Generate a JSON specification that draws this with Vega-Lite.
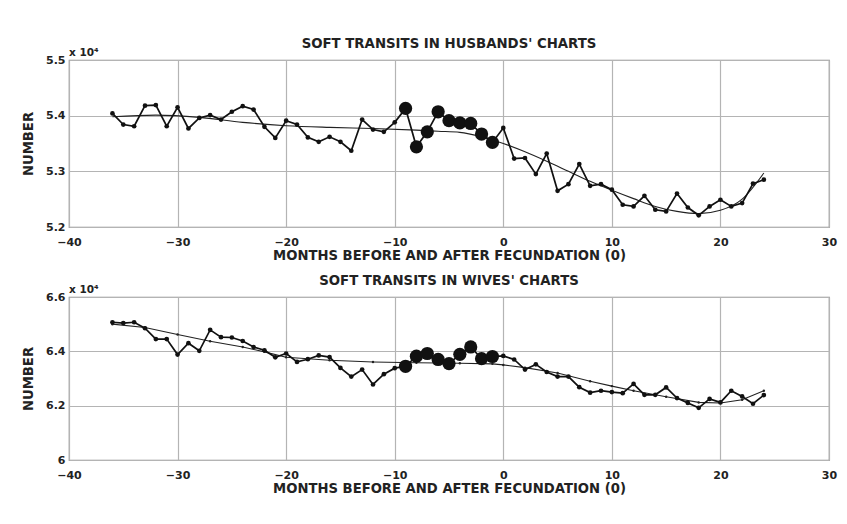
{
  "$schema": "https://vega.github.io/schema/vega-lite/v6.json",
  "background": "white",
  "padding": {"left": 20, "top": 36, "right": 8, "bottom": 8},
  "bounds": "flush",
  "spacing": 70,
  "config": {
    "view": {"stroke": "#8a8a8a", "strokeWidth": 1.2},
    "axis": {
      "labelFont": "DejaVu Sans", "labelFontWeight": "bold", "labelFontSize": 11, "labelColor": "#222",
      "titleFont": "DejaVu Sans", "titleFontWeight": "bold", "titleFontSize": 13.2, "titleColor": "#222",
      "ticks": false, "domain": false, "grid": true, "gridColor": "#b4b4b4", "gridWidth": 1.2
    },
    "title": {"font": "DejaVu Sans", "fontWeight": "bold", "fontSize": 13.3, "color": "#222", "frame": "group", "offset": -2}
  },
  "datasets": {
    "husb": [
      {"m": -36, "v": 54040}, {"m": -35, "v": 53840}, {"m": -34, "v": 53810}, {"m": -33, "v": 54180},
      {"m": -32, "v": 54190}, {"m": -31, "v": 53810}, {"m": -30, "v": 54150}, {"m": -29, "v": 53770},
      {"m": -28, "v": 53960}, {"m": -27, "v": 54010}, {"m": -26, "v": 53930}, {"m": -25, "v": 54070},
      {"m": -24, "v": 54170}, {"m": -23, "v": 54110}, {"m": -22, "v": 53800}, {"m": -21, "v": 53600},
      {"m": -20, "v": 53910}, {"m": -19, "v": 53840}, {"m": -18, "v": 53610}, {"m": -17, "v": 53530},
      {"m": -16, "v": 53620}, {"m": -15, "v": 53530}, {"m": -14, "v": 53370}, {"m": -13, "v": 53930},
      {"m": -12, "v": 53750}, {"m": -11, "v": 53710}, {"m": -10, "v": 53880}, {"m": -9, "v": 54130},
      {"m": -8, "v": 53440}, {"m": -7, "v": 53710}, {"m": -6, "v": 54070}, {"m": -5, "v": 53910},
      {"m": -4, "v": 53870}, {"m": -3, "v": 53860}, {"m": -2, "v": 53670}, {"m": -1, "v": 53520},
      {"m": 0, "v": 53780}, {"m": 1, "v": 53230}, {"m": 2, "v": 53240}, {"m": 3, "v": 52950},
      {"m": 4, "v": 53320}, {"m": 5, "v": 52650}, {"m": 6, "v": 52770}, {"m": 7, "v": 53130},
      {"m": 8, "v": 52740}, {"m": 9, "v": 52770}, {"m": 10, "v": 52670}, {"m": 11, "v": 52400},
      {"m": 12, "v": 52370}, {"m": 13, "v": 52560}, {"m": 14, "v": 52310}, {"m": 15, "v": 52280},
      {"m": 16, "v": 52600}, {"m": 17, "v": 52350}, {"m": 18, "v": 52210}, {"m": 19, "v": 52370},
      {"m": 20, "v": 52490}, {"m": 21, "v": 52370}, {"m": 22, "v": 52430}, {"m": 23, "v": 52780},
      {"m": 24, "v": 52850}
    ],
    "husbFit": [
      {"m": -36, "v": 53980}, {"m": -32, "v": 54010}, {"m": -28, "v": 53970}, {"m": -24, "v": 53880},
      {"m": -20, "v": 53820}, {"m": -16, "v": 53790}, {"m": -12, "v": 53770}, {"m": -8, "v": 53740},
      {"m": -6, "v": 53720}, {"m": -4, "v": 53700}, {"m": -2, "v": 53620}, {"m": 0, "v": 53500},
      {"m": 2, "v": 53350}, {"m": 4, "v": 53180}, {"m": 6, "v": 53000}, {"m": 8, "v": 52820},
      {"m": 10, "v": 52660}, {"m": 12, "v": 52510}, {"m": 14, "v": 52370}, {"m": 16, "v": 52280},
      {"m": 18, "v": 52240}, {"m": 20, "v": 52300}, {"m": 22, "v": 52500}, {"m": 24, "v": 52970}
    ],
    "wives": [
      {"m": -36, "v": 65070}, {"m": -35, "v": 65040}, {"m": -34, "v": 65070}, {"m": -33, "v": 64850},
      {"m": -32, "v": 64450}, {"m": -31, "v": 64450}, {"m": -30, "v": 63880}, {"m": -29, "v": 64300},
      {"m": -28, "v": 64020}, {"m": -27, "v": 64790}, {"m": -26, "v": 64520}, {"m": -25, "v": 64510},
      {"m": -24, "v": 64380}, {"m": -23, "v": 64160}, {"m": -22, "v": 64040}, {"m": -21, "v": 63780},
      {"m": -20, "v": 63920}, {"m": -19, "v": 63610}, {"m": -18, "v": 63710}, {"m": -17, "v": 63850},
      {"m": -16, "v": 63790}, {"m": -15, "v": 63390}, {"m": -14, "v": 63070}, {"m": -13, "v": 63330},
      {"m": -12, "v": 62780}, {"m": -11, "v": 63160}, {"m": -10, "v": 63380}, {"m": -9, "v": 63450},
      {"m": -8, "v": 63820}, {"m": -7, "v": 63920}, {"m": -6, "v": 63700}, {"m": -5, "v": 63550},
      {"m": -4, "v": 63890}, {"m": -3, "v": 64160}, {"m": -2, "v": 63730}, {"m": -1, "v": 63810},
      {"m": 0, "v": 63830}, {"m": 1, "v": 63700}, {"m": 2, "v": 63330}, {"m": 3, "v": 63520},
      {"m": 4, "v": 63240}, {"m": 5, "v": 63070}, {"m": 6, "v": 63070}, {"m": 7, "v": 62680},
      {"m": 8, "v": 62480}, {"m": 9, "v": 62550}, {"m": 10, "v": 62500}, {"m": 11, "v": 62460},
      {"m": 12, "v": 62800}, {"m": 13, "v": 62400}, {"m": 14, "v": 62400}, {"m": 15, "v": 62670},
      {"m": 16, "v": 62280}, {"m": 17, "v": 62100}, {"m": 18, "v": 61920}, {"m": 19, "v": 62250},
      {"m": 20, "v": 62120}, {"m": 21, "v": 62550}, {"m": 22, "v": 62340}, {"m": 23, "v": 62070},
      {"m": 24, "v": 62390}
    ],
    "wivesFit": [
      {"m": -36, "v": 65000}, {"m": -33, "v": 64880}, {"m": -30, "v": 64620}, {"m": -27, "v": 64370},
      {"m": -24, "v": 64160}, {"m": -22, "v": 63980}, {"m": -20, "v": 63780}, {"m": -16, "v": 63670},
      {"m": -12, "v": 63610}, {"m": -8, "v": 63580}, {"m": -4, "v": 63560}, {"m": -1, "v": 63540},
      {"m": 0, "v": 63500}, {"m": 2, "v": 63400}, {"m": 5, "v": 63200}, {"m": 8, "v": 62900},
      {"m": 10, "v": 62720}, {"m": 12, "v": 62550}, {"m": 15, "v": 62330}, {"m": 18, "v": 62120},
      {"m": 20, "v": 62100}, {"m": 22, "v": 62220}, {"m": 24, "v": 62550}
    ],
    "expTop": [{"m": -40, "v": 55000, "t": "x 10⁴"}],
    "expBottom": [{"m": -40, "v": 66000, "t": "x 10⁴"}]
  },
  "vconcat": [
    {
      "width": 760, "height": 167,
      "title": {"text": "SOFT TRANSITS IN HUSBANDS' CHARTS"},
      "encoding": {
        "x": {"field": "m", "type": "quantitative",
          "scale": {"domain": [-40, 30], "nice": false, "zero": false},
          "axis": {"values": [-40, -30, -20, -10, 0, 10, 20, 30], "labelFlush": false, "labelOverlap": false, "labelPadding": 9, "titlePadding": 2, "title": "MONTHS BEFORE AND AFTER FECUNDATION (0)"}},
        "y": {"field": "v", "type": "quantitative",
          "scale": {"domain": [52000, 55000], "nice": false, "zero": false},
          "axis": {"values": [52000, 53000, 54000, 55000], "labelExpr": "'' + datum.value / 10000", "labelPadding": 4, "titlePadding": 10, "title": "NUMBER"}}
      },
      "layer": [
        {"data": {"name": "husbFit"}, "mark": {"type": "line", "color": "#222", "strokeWidth": 1.1, "interpolate": "monotone"}},
        {"data": {"name": "husb"}, "mark": {"type": "line", "color": "#111", "strokeWidth": 1.7}},
        {"data": {"name": "husb"}, "mark": {"type": "circle", "color": "#111", "size": 22, "opacity": 1}},
        {"data": {"name": "husb"}, "transform": [{"filter": "datum.m >= -9 && datum.m <= -1"}], "mark": {"type": "circle", "color": "#111", "size": 175, "opacity": 1}},
        {"data": {"name": "expTop"}, "mark": {"type": "text", "align": "left", "baseline": "bottom", "dy": -2, "font": "DejaVu Sans", "fontWeight": "bold", "fontSize": 10.5, "color": "#222"},
          "encoding": {"text": {"field": "t"}}}
      ]
    },
    {
      "width": 760, "height": 163,
      "title": {"text": "SOFT TRANSITS IN WIVES' CHARTS"},
      "encoding": {
        "x": {"field": "m", "type": "quantitative",
          "scale": {"domain": [-40, 30], "nice": false, "zero": false},
          "axis": {"values": [-40, -30, -20, -10, 0, 10, 20, 30], "labelFlush": false, "labelOverlap": false, "labelPadding": 9, "titlePadding": 2, "title": "MONTHS BEFORE AND AFTER FECUNDATION (0)"}},
        "y": {"field": "v", "type": "quantitative",
          "scale": {"domain": [60000, 66000], "nice": false, "zero": false},
          "axis": {"values": [60000, 62000, 64000, 66000], "labelExpr": "'' + datum.value / 10000", "labelPadding": 4, "titlePadding": 10, "title": "NUMBER"}}
      },
      "layer": [
        {"data": {"name": "wivesFit"}, "mark": {"type": "line", "color": "#222", "strokeWidth": 1.1, "point": {"size": 6, "color": "#222"}}},
        {"data": {"name": "wives"}, "mark": {"type": "line", "color": "#111", "strokeWidth": 1.7}},
        {"data": {"name": "wives"}, "mark": {"type": "circle", "color": "#111", "size": 22, "opacity": 1}},
        {"data": {"name": "wives"}, "transform": [{"filter": "datum.m >= -9 && datum.m <= -1"}], "mark": {"type": "circle", "color": "#111", "size": 175, "opacity": 1}},
        {"data": {"name": "expBottom"}, "mark": {"type": "text", "align": "left", "baseline": "bottom", "dy": -2, "font": "DejaVu Sans", "fontWeight": "bold", "fontSize": 10.5, "color": "#222"},
          "encoding": {"text": {"field": "t"}}}
      ]
    }
  ]
}
